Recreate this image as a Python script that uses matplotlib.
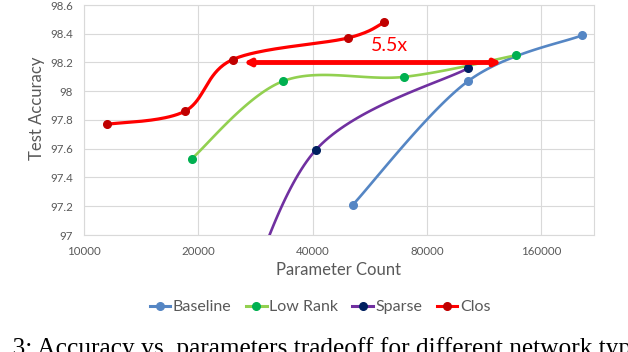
import numpy as np
import matplotlib
matplotlib.use("Agg")
import matplotlib.pyplot as plt
from matplotlib.lines import Line2D
from matplotlib.ticker import FixedLocator, FuncFormatter, NullLocator

# data (x = parameter count, y = test accuracy)
baseline_x = [51000, 102500, 205000]
baseline_y = [97.21, 98.07, 98.39]
lowrank_x = [19200, 33400, 69600, 137000]
lowrank_y = [97.53, 98.07, 98.10, 98.25]
sparse_x = [25000, 40700, 102500]
sparse_y = [96.35, 97.59, 98.16]
clos_x = [11500, 18400, 24600, 49400, 61700]
clos_y = [97.77, 97.86, 98.22, 98.37, 98.48]

x_ticks = [10000, 20000, 40000, 80000, 160000]
y_ticks = [97, 97.2, 97.4, 97.6, 97.8, 98, 98.2, 98.4, 98.6]

plt.rcParams['font.family'] = ['Lato', 'DejaVu Sans']
gray = '#595959'

fig = plt.figure(figsize=(6.28, 3.52), dpi=100)
ax = fig.add_axes([84 / 628, 1 - 235 / 352, 510 / 628, 230 / 352])
ax.set_xscale('log', base=2)
ax.set_xlim(10000, 220000)
ax.set_ylim(97, 98.6)

ax.xaxis.set_major_locator(FixedLocator(x_ticks))
ax.xaxis.set_minor_locator(NullLocator())
ax.xaxis.set_major_formatter(FuncFormatter(lambda v, p: f"{int(round(v))}"))
ax.set_yticks(y_ticks)
ax.yaxis.set_major_formatter(FuncFormatter(lambda v, p: f"{v:g}"))
ax.tick_params(length=0, labelsize=8.3, labelcolor=gray)
ax.tick_params(axis='y', pad=8)
ax.tick_params(axis='x', pad=8)
ax.grid(True, color='#D9D9D9', lw=0.8)
ax.set_axisbelow(True)
for s in ax.spines.values():
    s.set_color('#D9D9D9')
    s.set_linewidth(0.8)


# excel-like smoothed line, done in display space
def smooth(xs, ys, n=40):
    pts = ax.transData.transform(np.column_stack([xs, ys]))
    p = np.vstack([pts[0], pts, pts[-1]])
    t = np.linspace(0, 1, n)[:, None]
    out = []
    for i in range(1, len(p) - 2):
        p0, p1, p2, p3 = p[i - 1], p[i], p[i + 1], p[i + 2]
        c1 = p1 + (p2 - p0) / 6
        c2 = p2 - (p3 - p1) / 6
        seg = (1 - t) ** 3 * p1 + 3 * (1 - t) ** 2 * t * c1 + 3 * (1 - t) * t ** 2 * c2 + t ** 3 * p2
        out.append(seg)
    curve = ax.transData.inverted().transform(np.vstack(out))
    return curve[:, 0], curve[:, 1]


series = [
    ('Baseline', baseline_x, baseline_y, '#5586C4', '#5586C4', 1.9),
    ('Low Rank', lowrank_x, lowrank_y, '#92D050', '#00B050', 1.9),
    ('Sparse', sparse_x, sparse_y, '#7030A0', '#002060', 1.9),
    ('Clos', clos_x, clos_y, '#FF0000', '#C00000', 2.3),
]

handles = []
for i, (name, xs, ys, lc, mc, lw) in enumerate(series):
    cx, cy = smooth(xs, ys)
    ax.plot(cx, cy, color=lc, lw=lw, solid_capstyle='round', zorder=3 + i)
    ax.plot(xs, ys, 'o', color=mc, ms=5.5, zorder=3 + i, clip_on=True)
    handles.append(Line2D([], [], color=lc, lw=2.2, marker='o', ms=5.5,
                          mfc=mc, mec=mc, label=name))

# 5.5x arrow
ax.annotate('', xy=(26300, 98.2), xytext=(125600, 98.2),
            arrowprops=dict(arrowstyle='<|-|>', color='#FF0000', lw=3.5,
                            mutation_scale=9, shrinkA=0, shrinkB=0), zorder=10)
ax.text(63800, 98.316, '5.5x', color='#FF0000', fontsize=14,
        ha='center', va='center', zorder=10)

fig.text(37 / 628, 1 - 108.5 / 352, 'Test Accuracy', rotation=90,
         ha='center', va='center', fontsize=12, color=gray)
fig.text(338 / 628, 1 - 270 / 352, 'Parameter Count',
         ha='center', va='center', fontsize=12, color=gray)

fig.legend(handles=handles, ncol=4, loc='center',
           bbox_to_anchor=(320 / 628, 1 - 307 / 352), frameon=False,
           handlelength=1.3, handletextpad=0.15, columnspacing=0.9,
           fontsize=11.5, labelcolor=gray)

# caption of the paper figure, cut by the crop on the left and bottom
cap_font = dict(family=['Liberation Serif', 'DejaVu Serif'], fontsize=18.3)
renderer = fig.canvas.get_renderer()


def text_w(s):
    t = fig.text(0, 0, s, **cap_font)
    w = t.get_window_extent(renderer).width
    t.remove()
    return w


prefix_w = text_w('Fig. 3') - text_w('3')
fig.text((13 - prefix_w) / 628, -3 / 352,
         'Fig. 3: Accuracy vs. parameters tradeoff for different network types.',
         ha='left', va='baseline', color='black', **cap_font)

fig.savefig('out.png', dpi=100)
